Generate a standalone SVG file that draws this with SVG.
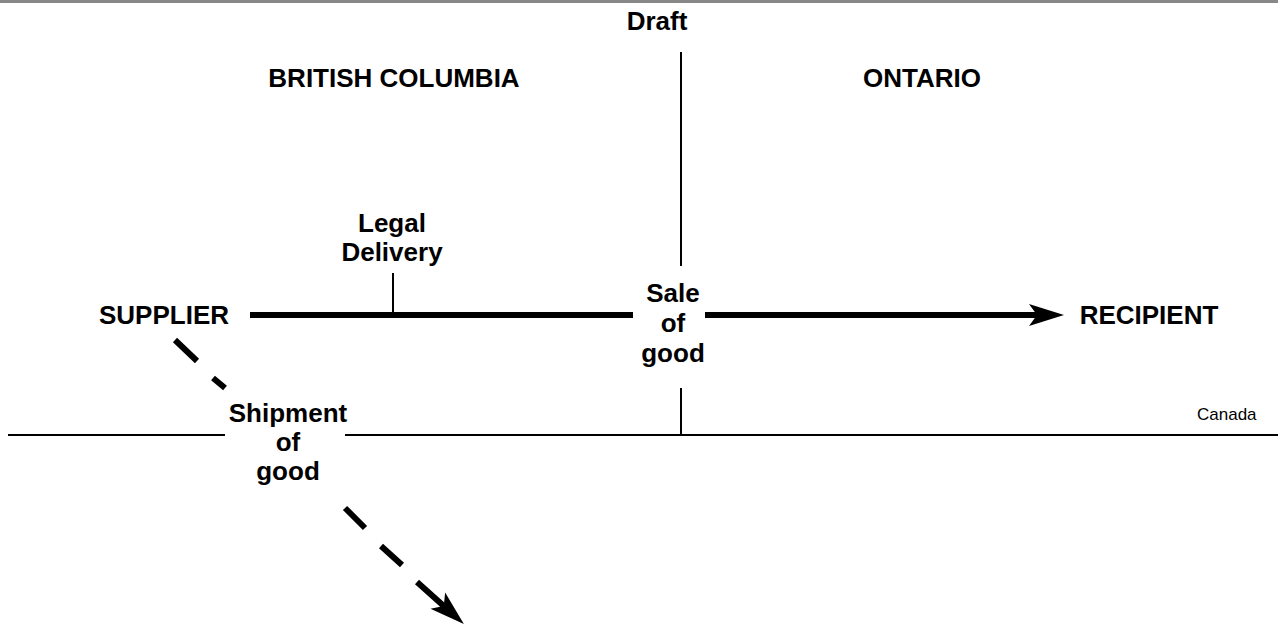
<svg xmlns="http://www.w3.org/2000/svg" width="1278" height="629" viewBox="0 0 1278 629">
  <style>
    .lbl { font-family: "Liberation Sans", Arial, sans-serif; font-weight: bold; font-size: 26px; fill: #000; text-anchor: middle; }
    .small { font-family: "Liberation Sans", Arial, sans-serif; font-size: 17px; fill: #000; }
    .thin { stroke: #000; stroke-width: 2; fill: none; }
    .thick { stroke: #000; stroke-width: 6; fill: none; }
    .bg { fill: #fff; }
  </style>
  <defs>
    <marker id="stealth" markerUnits="userSpaceOnUse" markerWidth="60" markerHeight="40" refX="0" refY="0" viewBox="-20 -20 60 40" orient="auto" overflow="visible">
      <path d="M24,0 L-11,-11 L-3,0 L-11,11 Z" fill="#000"/>
    </marker>
  </defs>

  <rect width="1278" height="629" fill="#fff"/>
  <!-- page edge -->
  <rect x="0" y="0" width="1278" height="3" fill="#888"/>

  <g id="connectors">
    <!-- provincial border -->
    <line class="thin" x1="681" y1="52" x2="681" y2="436"/>
    <!-- national border -->
    <line class="thin" x1="8" y1="435" x2="1278" y2="435"/>
    <!-- legal delivery tick -->
    <line class="thin" x1="393" y1="273" x2="393" y2="315"/>
    <!-- sale flow -->
    <line class="thick" x1="250" y1="315" x2="1040" y2="315" marker-end="url(#stealth)"/>
    <!-- shipment flow -->
    <path class="thick" d="M175,340 L197,361 M213,378 L225,388 M345,508 L365,528 M381,546 L402,565 M417,582 L446,608" marker-end="url(#stealth)"/>
  </g>

  <g id="draft">
    <text class="lbl" x="657" y="30">Draft</text>
  </g>
  <g id="british-columbia">
    <text class="lbl" x="394" y="87">BRITISH COLUMBIA</text>
  </g>
  <g id="ontario">
    <text class="lbl" x="922" y="87">ONTARIO</text>
  </g>
  <g id="legal-delivery">
    <text class="lbl"><tspan x="392" y="232">Legal</tspan><tspan x="392" y="261">Delivery</tspan></text>
  </g>
  <g id="supplier">
    <text class="lbl" x="164" y="324">SUPPLIER</text>
  </g>
  <g id="sale">
    <rect class="bg" x="633" y="266" width="72" height="122"/>
    <text class="lbl"><tspan x="673" y="302">Sale</tspan><tspan x="673" y="332">of</tspan><tspan x="673" y="362">good</tspan></text>
  </g>
  <g id="recipient">
    <text class="lbl" x="1149" y="324">RECIPIENT</text>
  </g>
  <g id="shipment">
    <rect class="bg" x="225" y="388" width="120" height="120"/>
    <text class="lbl"><tspan x="288" y="422">Shipment</tspan><tspan x="288" y="451">of</tspan><tspan x="288" y="480">good</tspan></text>
  </g>
  <g id="canada">
    <text class="small" x="1197" y="420">Canada</text>
  </g>
</svg>
